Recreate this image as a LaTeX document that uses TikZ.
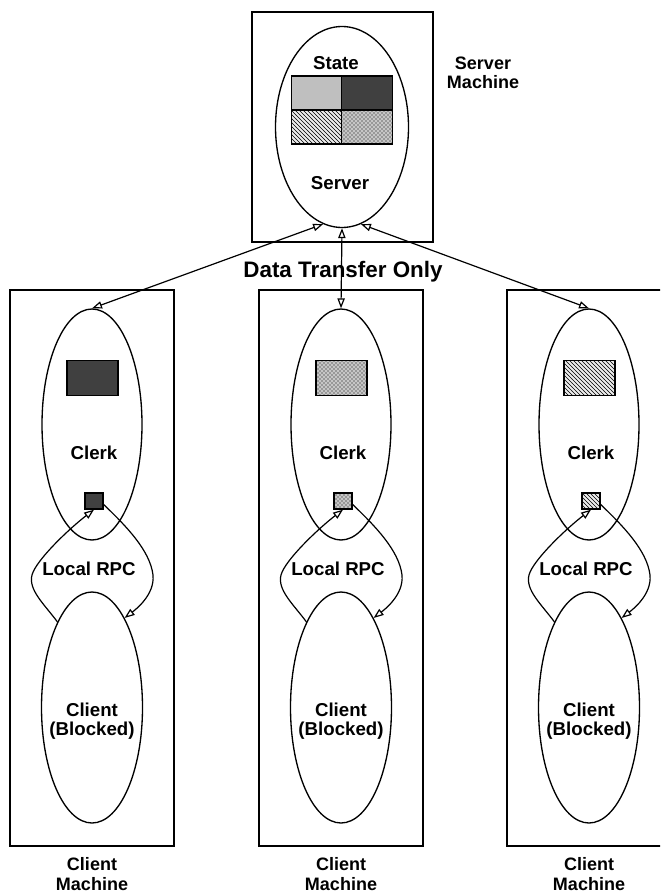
\documentclass[tikz,border=0pt]{standalone}
\usepackage{fontspec}
\setmainfont{Liberation Sans}
\usetikzlibrary{shapes.geometric,patterns,arrows.meta}
\tikzset{
  lbl/.style={font=\bfseries\fontsize{14}{14.5}\selectfont, align=center, inner sep=0pt},
  mlbl/.style={font=\bfseries\fontsize{13.5}{14.5}\selectfont, align=center, inner sep=0pt},
  box/.style={draw, line width=1.1pt, minimum width=123pt, minimum height=417pt, inner sep=0pt},
  oval/.style={draw, ellipse, line width=1pt, inner sep=0pt},
  cell/.style={draw, line width=1pt, inner sep=0pt, minimum width=38pt, minimum height=25.5pt},
  datarect/.style={draw, line width=1pt, inner sep=0pt, minimum width=38.25pt, minimum height=26pt},
  smallsq/.style={draw, line width=1pt, inner sep=0pt, minimum width=13.5pt, minimum height=12pt},
  arr/.style={line width=0.9pt, -{Triangle[open,length=7.5pt,width=5.5pt]}},
  dbl/.style={line width=0.9pt, {Triangle[open,length=7.5pt,width=5.5pt]}-{Triangle[open,length=7.5pt,width=5.5pt]}},
  darkfill/.style={fill=black!75},
  dotfill/.style={preaction={fill=gray!45}, pattern=crosshatch dots},
  hatchfill/.style={preaction={fill=gray!15}, pattern=north west lines}
}
\newcommand\clientcol[3]{%
  \node[box] (box#1) at (#2,568) {};
  \node[oval, minimum width=75pt, minimum height=173.25pt] (clerk#1) at (#2,424.5) {};
  \node[oval, minimum width=75.75pt, minimum height=173.25pt] (cli#1) at (#2,707.5) {};
  \node[datarect, #3] (data#1) at (#2+0.5,378) {};
  \node[smallsq, #3] (sq#1) at (#2+2,501) {};
  \node[lbl] (clerklbl#1) at (#2+2,453) {Clerk};
  \node[lbl] (rpc#1) at (#2-3,569) {Local RPC};
  \node[lbl] (clitxt#1) at (#2,721) {Client\\(Blocked)};
  \node[mlbl] (mach#1) at (#2,874) {Client\\Machine};
  \draw[arr] (cli#1.112) .. controls (#2-47,605) and (#2-64,590) .. (#2-60,575)
     .. controls (#2-56,560) and (#2-22,528) .. (sq#1.south);
  \draw[arr] (sq#1.-20) .. controls (#2+33,525) and (#2+58,550) .. (#2+61,575)
     .. controls (#2+63,595) and (#2+43,610) .. (cli#1.70);
}
\begin{document}
\begin{tikzpicture}[x=0.75pt,y=-0.75pt]
\clip (0,0) rectangle (660,895);
% server
\node[box, minimum width=135.75pt, minimum height=172.5pt] (sbox) at (342.5,127) {};
\node[oval, minimum width=99.75pt, minimum height=150.75pt] (srv) at (342,127) {};
\node[lbl] (state) at (336,63) {State};
\node[cell, fill=gray!50] (c1) at (316.5,93) {};
\node[cell, darkfill] (c2) at (367,93) {};
\node[cell, hatchfill] (c3) at (316.5,127) {};
\node[cell, dotfill] (c4) at (367,127) {};
\node[lbl] (server) at (340,183) {Server};
\node[mlbl] (smach) at (483,73) {Server\\Machine};
% clients
\clientcol{L}{92}{darkfill}
\clientcol{M}{341}{dotfill}
\clientcol{R}{589}{hatchfill}
% data transfer
\node[font=\bfseries\fontsize{16.8}{18}\selectfont, inner sep=0pt] (dto) at (343,272) {Data Transfer Only};
\draw[dbl] (srv.-101) -- (clerkL.north);
\draw[dbl] (srv.south) -- (clerkM.north);
\draw[dbl] (srv.-79) -- (clerkR.north);
\end{tikzpicture}
\end{document}
